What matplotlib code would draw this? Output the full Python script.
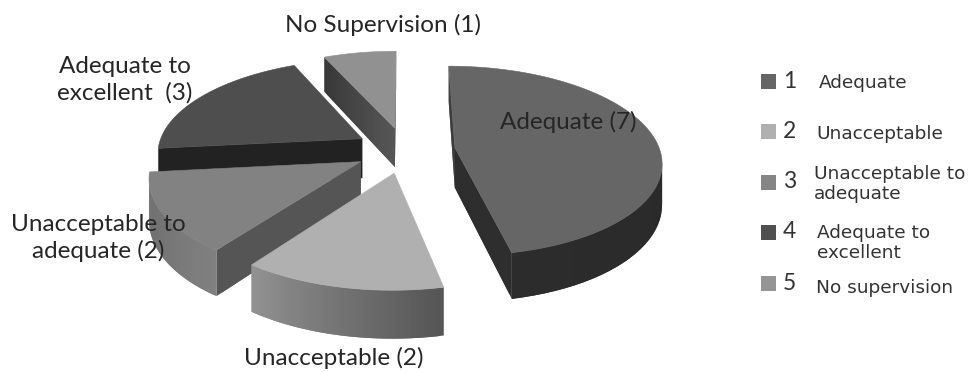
#exploded 3D pie of supervision ratings, drawn by hand since matplotlib has no perspective pie

import numpy as np
import matplotlib
matplotlib.use('Agg')
import matplotlib.pyplot as plt
from matplotlib.patches import Polygon, Rectangle

#slice data
values = [7, 2, 2, 3, 1]
sliceLabels = ['Adequate (7)', 'Unacceptable (2)', 'Unacceptable to\nadequate (2)', 'Adequate to\nexcellent  (3)', 'No Supervision (1)']
legendDigits = ['1', '2', '3', '4', '5']
legendNames = ['Adequate', 'Unacceptable', 'Unacceptable to\nadequate', 'Adequate to\nexcellent', 'No supervision']

#colours per slice: top face, arc side (left, right), first radial side (start, apex)
topColors = ['#666666', '#b0b0b0', '#828282', '#4e4e4e', '#919191']
arcColors = [('#2c2c2c', '#2a2a2a'), ('#929292', '#555555'), ('#6c6c6c', '#808080'), ('#222222', '#222222'), ('#444444', '#444444')]
radialColors = [('#2e2e2e', '#2e2e2e'), ('#555555', '#555555'), ('#555555', '#555555'), ('#222222', '#222222'), ('#383838', '#565656')]
legendColors = ['#666666', '#b0b0b0', '#858585', '#505050', '#959595']

#pie geometry in pixels
cx, cy = 405, 150
rx, ry = 205, 93.5
persp = 0.14
explode = 0.245
depth = 40

#plane point to screen, near points get scaled up
def project(X, Y):
  s = 1/(1 + persp*Y)
  return cx + rx*X*s, cy - ry*Y*s, depth*s

#each strip runs over the next one's start so no white shows through the seams
def drawSide(ax, pts, c0, c1):
  c0 = np.array(matplotlib.colors.to_rgb(c0))
  c1 = np.array(matplotlib.colors.to_rgb(c1))
  n = len(pts) - 1
  for i in range(n):
    x0, y0, d0 = pts[i]
    x1, y1, d1 = pts[min(i+2, n)]
    col = c0 + (c1 - c0)*i/max(n-1, 1)
    ax.add_patch(Polygon([(x0, y0), (x1, y1), (x1, y1+d1), (x0, y0+d0)], closed=True, facecolor=col, edgecolor='none'))

def drawSlice(ax, a0, a1, top, arc, radial):
  mid = (a0 + a1)/2
  ox, oy = explode*np.sin(mid), explode*np.cos(mid)
  angles = np.linspace(a0, a1, 60)
  apex = project(ox, oy)
  rim = [project(ox + np.sin(a), oy + np.cos(a)) for a in angles]

  #sides that move left when going clockwise face the viewer
  first = [project(ox + t*np.sin(a0), oy + t*np.cos(a0)) for t in np.linspace(1, 0, 30)]
  last = [project(ox + t*np.sin(a1), oy + t*np.cos(a1)) for t in np.linspace(0, 1, 30)]
  if apex[0] > rim[0][0]: drawSide(ax, first, radial[0], radial[1])
  if rim[-1][0] > apex[0]: drawSide(ax, last[::-1], radial[0], radial[1])
  visible = [i for i in range(len(rim)-1) if rim[i+1][0] < rim[i][0]]
  if visible:
    drawSide(ax, [rim[i] for i in visible] + [rim[visible[-1]+1]], arc[1], arc[0])

  outline = [(apex[0], apex[1])] + [(p[0], p[1]) for p in rim]
  ax.add_patch(Polygon(outline, closed=True, facecolor=top, edgecolor=top, lw=0.4))

if __name__=='__main__':
  fig = plt.figure(figsize=(9.68, 3.72), dpi=100)
  ax = fig.add_axes([0, 0, 1, 1])
  ax.set_xlim(0, 968)
  ax.set_ylim(372, 0)
  ax.axis('off')

  edges = np.cumsum([0] + values)/sum(values)*2*np.pi

  #far slices first so near ones paint over them
  for i in [4, 3, 2, 1, 0]:
    drawSlice(ax, edges[i], edges[i+1], topColors[i], arcColors[i], radialColors[i])

  font = 'Lato'
  labelSize = 17.5
  labelPos = [(568, 122), (334, 358), (98, 238), (125, 80), (383, 25)]
  for label, (x, y) in zip(sliceLabels, labelPos):
    ax.text(x, y, label, ha='center', va='center', fontsize=labelSize, family=font, color='#262626', linespacing=1.3)

  #legend, built by hand because the rows are not evenly laid out
  rowY = [81, 131, 182, 232, 283]
  nameX = [819, 816, 814, 817, 816]
  nameY = [83, 134, 184, 243, 288]
  for i in range(len(legendNames)):
    ax.add_patch(Rectangle((761, rowY[i]-7.5), 14.5, 15, facecolor=legendColors[i], edgecolor='none'))
    ax.text(783, rowY[i], legendDigits[i], ha='left', va='center', fontsize=16.5, family=font, color='#333333')
    ax.text(nameX[i], nameY[i], legendNames[i], ha='left', va='center', fontsize=13.3, family='DejaVu Sans', color='#333333', linespacing=1.12)

  fig.savefig('out.png', dpi=100)
